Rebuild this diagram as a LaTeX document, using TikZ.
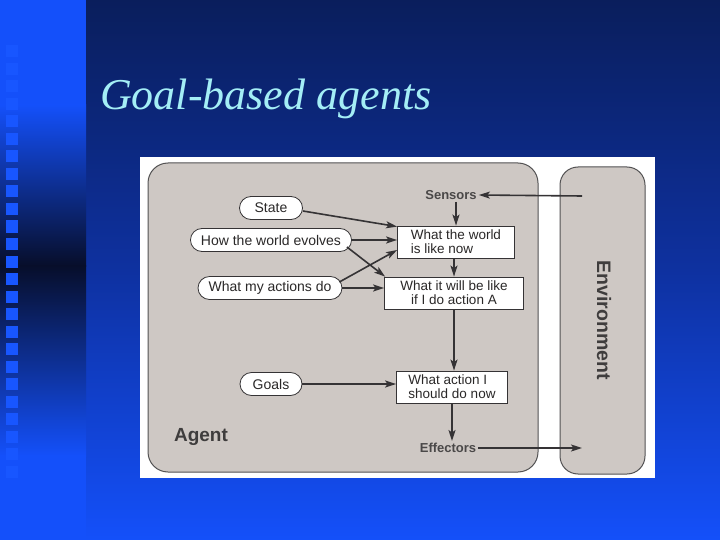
\documentclass[tikz,border=0pt]{standalone}
\usepackage{fontspec}
\setmainfont{Liberation Serif}
\newfontfamily\dsans{Liberation Sans}
\usetikzlibrary{arrows.meta}
\definecolor{navy}{HTML}{0A1E5C}
\definecolor{midblue}{HTML}{0E31A0}
\definecolor{bright}{HTML}{1450FA}
\definecolor{sdark}{HTML}{070E2A}
\definecolor{sqcol}{HTML}{1856FF}
\definecolor{titlecol}{HTML}{A4EEF6}
\definecolor{panelgray}{HTML}{CEC8C4}
\definecolor{linecol}{HTML}{353335}
\definecolor{txtcol}{HTML}{2A2828}
\tikzset{
  oval/.style={draw=linecol, line width=0.8pt, fill=white, rounded corners=11.5pt,
    minimum height=23pt, inner xsep=10.5pt, inner ysep=2pt, text=txtcol,
    font=\dsans\fontsize{14}{15}\selectfont},
  infobox/.style={draw=linecol, line width=0.8pt, fill=white, minimum height=32pt,
    inner xsep=4pt, inner ysep=2pt, text=txtcol,
    font=\dsans\fontsize{13.5}{14}\selectfont},
  ioname/.style={text=txtcol!85, font=\dsans\bfseries\fontsize{13}{14}\selectfont, inner sep=2pt},
  panel/.style={draw=linecol!85, line width=1pt, fill=panelgray},
  arr/.style={draw=linecol, line width=1.6pt, -{Stealth[length=11pt,width=7pt,inset=2.5pt]}},
}
\begin{document}
\begin{tikzpicture}[x=1pt,y=-1pt]
\useasboundingbox (0,0) rectangle (720,540);
% main background
\fill[top color=navy, bottom color=bright, middle color=midblue] (85,0) rectangle (720,540);
% left strip
\fill[bright] (0,0) rectangle (86,106);
\fill[top color=bright, bottom color=sdark] (0,105) rectangle (86,266);
\fill[top color=sdark, bottom color=bright] (0,265) rectangle (86,456);
\fill[bright] (0,455) rectangle (86,540);
\foreach \i in {1,...,25} \fill[sqcol] (6,28+17.5*\i) rectangle ++(12,12);
% title
\node[anchor=base west, inner sep=0pt, text=titlecol, font=\itshape\fontsize{44}{48}\selectfont] (title) at (100,110) {Goal-based agents};
% white figure background
\fill[white] (140,157) rectangle (655,478);
% panels
\draw[panel, rounded corners=20pt] (148,163) rectangle (538,472);
\draw[panel, rounded corners=18pt] (560,167) rectangle (645,474);
% labels
\node[text=txtcol!90, font=\dsans\bfseries\fontsize{19}{20}\selectfont] (agent) at (201,437) {Agent};
\node[rotate=-90, text=txtcol!90, font=\dsans\bfseries\fontsize{19.5}{20}\selectfont] (envlbl) at (604,320) {Environment};
% nodes
\node[oval, minimum width=63pt] (state) at (271,208) {State};
\node[oval] (evolve) at (271,240) {How the world evolves};
\node[oval] (actdo) at (270,288) {What my actions do};
\node[oval, minimum width=62pt] (goals) at (271,384) {Goals};
\node[ioname] (sensors) at (451,195) {Sensors};
\node[ioname] (effectors) at (448,448) {Effectors};
\node[infobox, minimum width=117pt, align=left] (world) at (456,242) {What the world\\is like now};
\node[infobox, minimum width=139pt, align=center] (will) at (454,293) {What it will be like\\if I do action A};
\node[infobox, minimum width=111pt, align=left] (action) at (452,387) {What action I\\should do now};
\coordinate (sin) at (582,196);
\coordinate (eout) at (582,448);
% connectors
\draw[arr] (sin) -- (sensors.east);
\draw[arr] (sensors.south -| world.north) -- (world.north);
\draw[arr] ([yshift=-3pt]state.east) -- ([yshift=-1pt]world.north west);
\draw[arr] (evolve.east) -- (evolve.east -| world.west);
\draw[arr] ([xshift=-5pt,yshift=-7pt]evolve.east) -- ([xshift=1pt]will.north west);
\draw[arr] ([xshift=-3pt,yshift=6pt]actdo.east) -- ([yshift=-8pt]world.west);
\draw[arr] (actdo.east) -- (actdo.east -| will.west);
\draw[arr] (world.south -| will.north) -- (will.north);
\draw[arr] (will.south) -- (will.south |- action.north);
\draw[arr] (goals.east) -- (goals.east -| action.west);
\draw[arr] (action.south) -- (action.south |- effectors.north);
\draw[arr] (effectors.east) -- (eout);
\end{tikzpicture}
\end{document}
